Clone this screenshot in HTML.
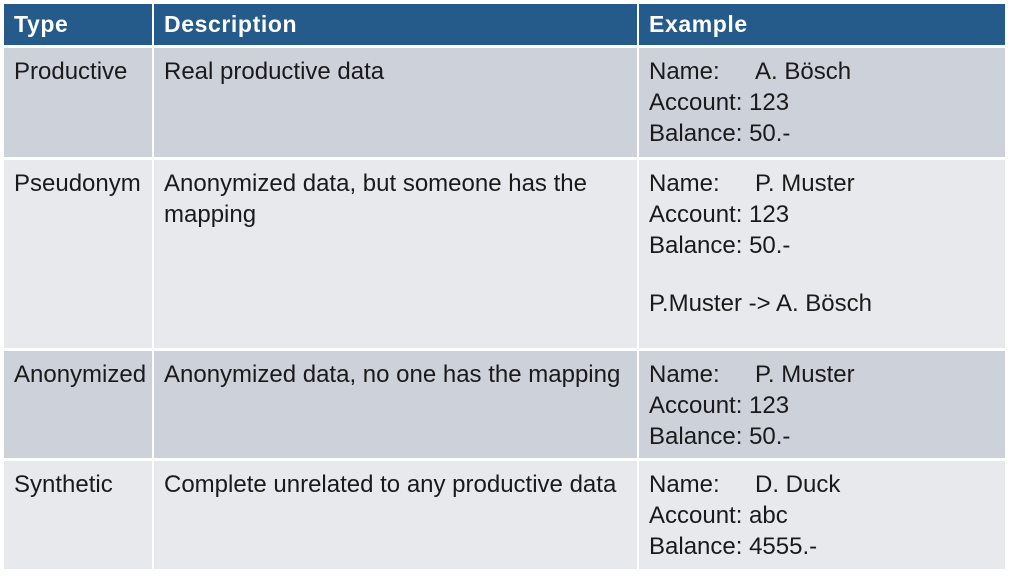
<!DOCTYPE html>
<html><head><style>
body{margin:0;width:1011px;height:576px;background:#fff;position:relative;overflow:hidden;font-family:"Liberation Sans",Arial,sans-serif;}
.c{position:absolute;box-sizing:border-box;padding:0 0 0 10px;color:#1a1a1a;font-size:24px;line-height:31px;}
.h{background:#245b8b;color:#fff;font-weight:bold;font-size:23px;letter-spacing:0.6px;line-height:41px;}
.d{background:#cdd1da;padding-top:8px}
.l{background:#e8e9ed;padding-top:8px}
.k{display:inline-block;width:106px}
</style></head><body>
<div class="c h" style="left:4px;top:4px;width:148px;height:41px">Type</div>
<div class="c h" style="left:154px;top:4px;width:483px;height:41px">Description</div>
<div class="c h" style="left:639px;top:4px;width:366px;height:41px">Example</div>

<div class="c d" style="left:4px;top:48px;width:148px;height:109px">Productive</div>
<div class="c d" style="left:154px;top:48px;width:483px;height:109px">Real productive data</div>
<div class="c d" style="left:639px;top:48px;width:366px;height:109px"><span class="k">Name:</span>A. Bösch<br>Account: 123<br>Balance: 50.-</div>

<div class="c l" style="left:4px;top:160px;width:148px;height:188px">Pseudonym</div>
<div class="c l" style="left:154px;top:160px;width:483px;height:188px">Anonymized data, but someone has the<br>mapping</div>
<div class="c l" style="left:639px;top:160px;width:366px;height:188px"><span class="k">Name:</span>P. Muster<br>Account: 123<br>Balance: 50.-<br><div style="height:27px"></div>P.Muster -&gt; A. Bösch</div>

<div class="c d" style="left:4px;top:351px;width:148px;height:107px">Anonymized</div>
<div class="c d" style="left:154px;top:351px;width:483px;height:107px">Anonymized data, no one has the mapping</div>
<div class="c d" style="left:639px;top:351px;width:366px;height:107px"><span class="k">Name:</span>P. Muster<br>Account: 123<br>Balance: 50.-</div>

<div class="c l" style="left:4px;top:461px;width:148px;height:108px">Synthetic</div>
<div class="c l" style="left:154px;top:461px;width:483px;height:108px">Complete unrelated to any productive data</div>
<div class="c l" style="left:639px;top:461px;width:366px;height:108px"><span class="k">Name:</span>D. Duck<br>Account: abc<br>Balance: 4555.-</div>
</body></html>
